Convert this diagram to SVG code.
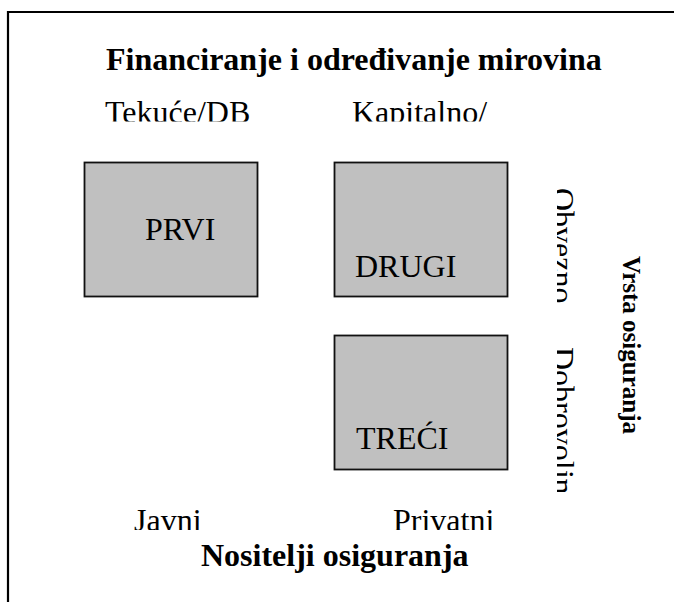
<svg xmlns="http://www.w3.org/2000/svg" width="674" height="602" viewBox="0 0 674 602">
<style>
  .t { font-family: "Liberation Serif", "Times New Roman", serif; font-size: 32px; fill: #000; }
  .b { font-weight: bold; }
  .box { fill: #c0c0c0; stroke: #111; stroke-width: 1.8; }
</style>
<defs>
  <clipPath id="clipTop" clipPathUnits="userSpaceOnUse"><rect x="0" y="80" width="674" height="41.5"/></clipPath>
  <clipPath id="clipBottom" clipPathUnits="userSpaceOnUse"><rect x="0" y="490" width="674" height="40"/></clipPath>
  <clipPath id="clipObv" clipPathUnits="userSpaceOnUse"><rect x="557" y="170" width="40" height="140"/></clipPath>
  <clipPath id="clipDob" clipPathUnits="userSpaceOnUse"><rect x="557" y="330" width="40" height="162"/></clipPath>
</defs>
<rect x="0" y="0" width="674" height="602" fill="#fff"/>
<path d="M8,602 V12 H674" fill="none" stroke="#000" stroke-width="2.2"/>

<g id="title"><text class="t b" x="106" y="70">Financiranje i određivanje mirovina</text></g>

<g id="col-labels" clip-path="url(#clipTop)">
  <text class="t" x="105" y="123">Tekuće/DB</text>
  <text class="t" x="352" y="123">Kapitalno/</text>
</g>

<g id="prvi">
  <rect class="box" x="84.5" y="162.5" width="173" height="134"/>
  <text class="t" x="145" y="240">PRVI</text>
</g>
<g id="drugi">
  <rect class="box" x="334.5" y="162.5" width="173" height="134"/>
  <text class="t" x="355" y="277">DRUGI</text>
</g>
<g id="treci">
  <rect class="box" x="334.5" y="335.5" width="173" height="134"/>
  <text class="t" x="356" y="449">TREĆI</text>
</g>

<g id="row-labels">
  <g clip-path="url(#clipObv)"><text class="t" transform="translate(552,188) rotate(90)">Obvezno</text></g>
  <g clip-path="url(#clipDob)"><text class="t" transform="translate(552,347) rotate(90)">Dobrovoljno</text></g>
</g>

<g id="vrsta"><text class="t b" style="font-size:25px" transform="translate(623,256) rotate(90)">Vrsta osiguranja</text></g>

<g id="bottom-labels" clip-path="url(#clipBottom)">
  <text class="t" x="134" y="531">Javni</text>
  <text class="t" x="393" y="531">Privatni</text>
</g>
<g id="nositelji"><text class="t b" x="201" y="566">Nositelji osiguranja</text></g>
<g id="connectors"/>
</svg>
